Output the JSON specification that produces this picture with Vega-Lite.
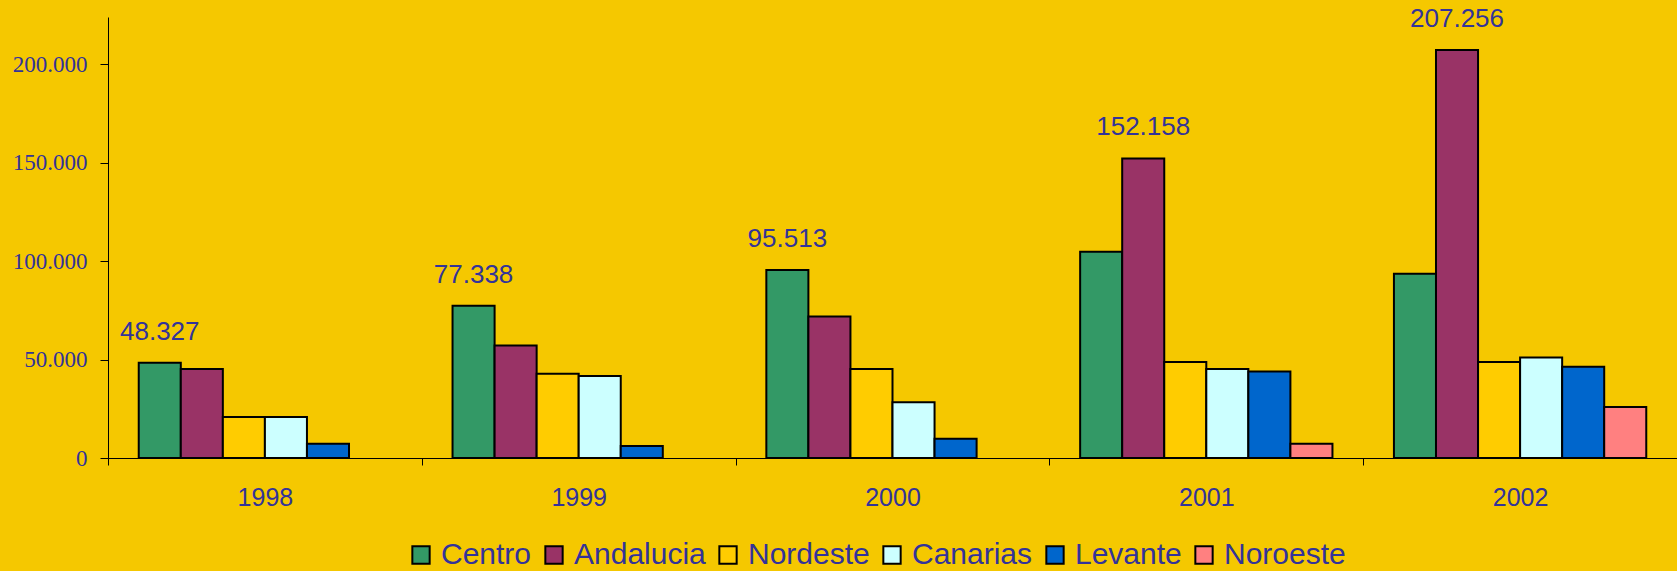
{
  "$schema": "https://vega.github.io/schema/vega-lite/v6.json",
  "width": 1569,
  "height": 441,
  "autosize": {"type": "none"},
  "padding": {"left": 108, "top": 17, "right": 0, "bottom": 113},
  "background": "#F5C800",
  "config": {
    "view": {"stroke": null},
    "locale": {"number": {"decimal": ",", "thousands": ".", "grouping": [3], "currency": ["", " €"]}},
    "axis": {"grid": false, "domainColor": "#000000", "tickColor": "#000000", "domainWidth": 1, "tickWidth": 1, "title": null}
  },
  "data": {
    "values": [
      {"anio": "1998", "region": "Centro", "valor": 48327},
      {"anio": "1998", "region": "Andalucia", "valor": 45200},
      {"anio": "1998", "region": "Nordeste", "valor": 20800},
      {"anio": "1998", "region": "Canarias", "valor": 20800},
      {"anio": "1998", "region": "Levante", "valor": 7300},
      {"anio": "1999", "region": "Centro", "valor": 77338},
      {"anio": "1999", "region": "Andalucia", "valor": 57200},
      {"anio": "1999", "region": "Nordeste", "valor": 42800},
      {"anio": "1999", "region": "Canarias", "valor": 41600},
      {"anio": "1999", "region": "Levante", "valor": 6100},
      {"anio": "2000", "region": "Centro", "valor": 95513},
      {"anio": "2000", "region": "Andalucia", "valor": 71900},
      {"anio": "2000", "region": "Nordeste", "valor": 45200},
      {"anio": "2000", "region": "Canarias", "valor": 28300},
      {"anio": "2000", "region": "Levante", "valor": 9800},
      {"anio": "2001", "region": "Centro", "valor": 104700},
      {"anio": "2001", "region": "Andalucia", "valor": 152158},
      {"anio": "2001", "region": "Nordeste", "valor": 48700},
      {"anio": "2001", "region": "Canarias", "valor": 45200},
      {"anio": "2001", "region": "Levante", "valor": 44000},
      {"anio": "2001", "region": "Noroeste", "valor": 7300},
      {"anio": "2002", "region": "Centro", "valor": 93600},
      {"anio": "2002", "region": "Andalucia", "valor": 207256},
      {"anio": "2002", "region": "Nordeste", "valor": 48700},
      {"anio": "2002", "region": "Canarias", "valor": 51100},
      {"anio": "2002", "region": "Levante", "valor": 46400},
      {"anio": "2002", "region": "Noroeste", "valor": 25900}
    ]
  },
  "encoding": {
    "x": {
      "field": "anio",
      "type": "nominal",
      "scale": {"paddingInner": 0, "paddingOuter": 0},
      "axis": {
        "labelAngle": 0,
        "tickBand": "extent",
        "tickSize": 7,
        "labelPadding": 20,
        "labelFont": "Liberation Sans",
        "labelFontSize": 25,
        "labelColor": "#333399"
      }
    },
    "xOffset": {
      "field": "region",
      "type": "nominal",
      "scale": {
        "domain": ["Centro", "Andalucia", "Nordeste", "Canarias", "Levante", "Noroeste"],
        "paddingInner": 0,
        "paddingOuter": 0.731
      }
    },
    "y": {
      "field": "valor",
      "type": "quantitative",
      "scale": {"domain": [0, 224000], "nice": false},
      "axis": {
        "values": [0, 50000, 100000, 150000, 200000],
        "format": ",.0f",
        "tickSize": 8,
        "labelPadding": 13,
        "labelFont": "Liberation Serif",
        "labelFontSize": 23,
        "labelColor": "#333399"
      }
    }
  },
  "layer": [
    {
      "mark": {"type": "bar", "stroke": "#000000", "strokeWidth": 2},
      "encoding": {
        "fill": {
          "field": "region",
          "type": "nominal",
          "scale": {
            "domain": ["Centro", "Andalucia", "Nordeste", "Canarias", "Levante", "Noroeste"],
            "range": ["#339966", "#993366", "#FFCC00", "#CCFFFF", "#0066CC", "#FF8080"]
          },
          "legend": {
            "title": null,
            "orient": "none",
            "direction": "horizontal",
            "legendX": 298,
            "legendY": 523,
            "padding": 0,
            "symbolType": "square",
            "symbolSize": 300,
            "symbolStrokeColor": "#000000",
            "symbolStrokeWidth": 2,
            "symbolOpacity": 1,
            "labelFont": "Liberation Sans",
            "labelFontSize": 30,
            "labelColor": "#333399",
            "labelOffset": 5,
            "columnPadding": 7,
            "labelLimit": 400
          }
        }
      }
    },
    {
      "transform": [
        {"joinaggregate": [{"op": "max", "field": "valor", "as": "maximo"}], "groupby": ["anio"]},
        {"filter": "datum.valor === datum.maximo"}
      ],
      "mark": {
        "type": "text",
        "dy": -23,
        "baseline": "alphabetic",
        "align": "center",
        "font": "Liberation Sans",
        "fontSize": 26,
        "color": "#333399"
      },
      "encoding": {
        "text": {"field": "valor", "type": "quantitative", "format": ",.0f"}
      }
    }
  ]
}
